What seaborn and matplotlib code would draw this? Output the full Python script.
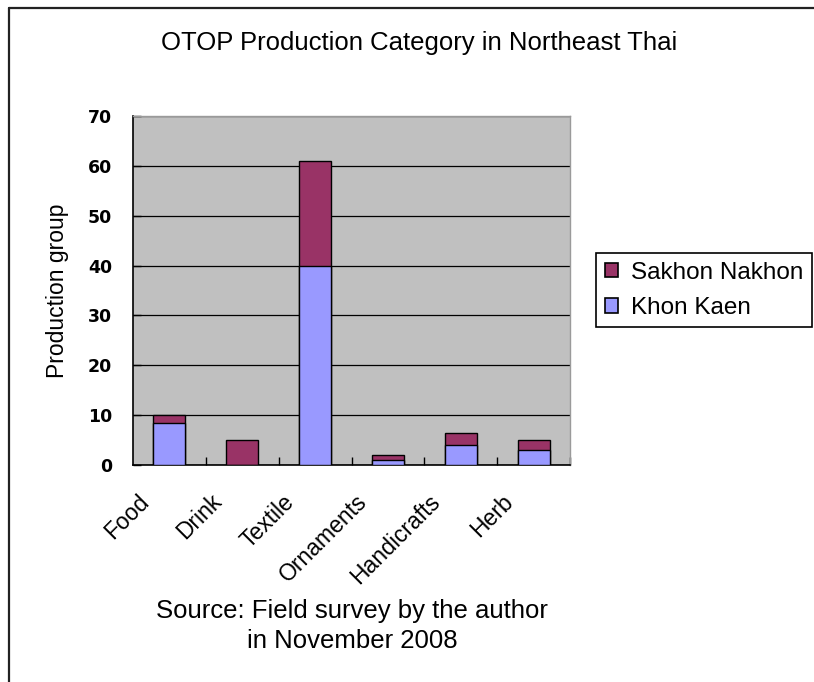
import matplotlib
matplotlib.use("Agg")
import matplotlib.pyplot as plt
import matplotlib.transforms as mtransforms
from matplotlib.lines import Line2D
from matplotlib.patches import Patch
import seaborn as sns
import pandas as pd

# Production groups per OTOP category
categories = ["Food", "Drink", "Textile", "Ornaments", "Handicrafts", "Herb"]
khon_kaen = [8.5, 0, 40, 1, 4, 3]
sakhon_nakhon = [1.5, 5, 21, 1, 2.4, 2]
y_ticks = [0, 10, 20, 30, 40, 50, 60, 70]

totals = [k + s for k, s in zip(khon_kaen, sakhon_nakhon)]
df = pd.DataFrame({"category": categories, "khon": khon_kaen, "total": totals})

SAKHON_COLOR = "#993366"
KHON_COLOR = "#9999FF"
FONT = "Liberation Sans"

sns.set_theme(style="white")
plt.rcParams["font.family"] = [FONT, "DejaVu Sans"]
plt.rcParams.update({"text.color": "black", "axes.labelcolor": "black",
                     "xtick.color": "black", "ytick.color": "black"})

fig = plt.figure(figsize=(8.14, 6.82), dpi=100)
ax = fig.add_axes([133 / 814, 1 - 465 / 682, 437 / 814, 349 / 682])
ax.set_facecolor("#C0C0C0")
ax.set_axisbelow(True)

# stacked bars: full height in Sakhon Nakhon colour, Khon Kaen part drawn over it
sns.barplot(data=df, x="category", y="total", color=SAKHON_COLOR, saturation=1,
            width=0.44, edgecolor="black", linewidth=1.0, ax=ax, zorder=3)
sns.barplot(data=df, x="category", y="khon", color=KHON_COLOR, saturation=1,
            width=0.44, edgecolor="black", linewidth=1.0, ax=ax, zorder=4)

ax.set_xlim(-0.5, len(categories) - 0.5)
ax.set_ylim(0, 70)
ax.set_yticks(y_ticks)
ax.set_yticklabels([str(v) for v in y_ticks], fontsize=12.5, fontweight="bold",
                   family="DejaVu Sans")
ax.yaxis.grid(True, color="black", linewidth=0.9)
ax.xaxis.grid(False)

# category labels at bar centres, tick marks on the category boundaries
ax.set_xticks(range(len(categories)))
ax.set_xticklabels(categories, rotation=45, ha="right", va="top", fontsize=16.5)
ax.set_xticks([i + 0.5 for i in range(len(categories))], minor=True)
ax.tick_params(axis="x", which="major", length=0, pad=18)
ax.tick_params(axis="x", which="minor", direction="in", length=6, width=1, color="black", bottom=True)
ax.tick_params(axis="y", direction="in", length=6, width=1, color="black", left=True, pad=15)
shift = mtransforms.ScaledTranslation(-16 / 100, 0, fig.dpi_scale_trans)
for lab in ax.get_xticklabels():
    lab.set_transform(lab.get_transform() + shift)

ax.set_xlabel("")
ax.set_ylabel("Production group", fontsize=16.5)
ax.yaxis.set_label_coords(-0.146, 0.5)

for side in ["left", "bottom"]:
    ax.spines[side].set_color("black")
    ax.spines[side].set_linewidth(1.2)
for side in ["top", "right"]:
    ax.spines[side].set_color("#9A9A9A")
    ax.spines[side].set_linewidth(1.0)
    ax.spines[side].set_visible(True)

fig.text(419.5 / 814, 1 - 43 / 682, "OTOP Production Category in Northeast Thai",
         ha="center", va="center", fontsize=18.5)
fig.text(352 / 814, 1 - 626 / 682, "Source: Field survey by the author\nin November 2008",
         ha="center", va="center", fontsize=18.5, linespacing=1.3)

handles = [Patch(facecolor=SAKHON_COLOR, edgecolor="black", linewidth=1.2),
           Patch(facecolor=KHON_COLOR, edgecolor="black", linewidth=1.2)]
leg = fig.legend(handles, ["Sakhon Nakhon", "Khon Kaen"],
                 loc="upper left", bbox_to_anchor=(596 / 814, 1 - 253 / 682),
                 bbox_transform=fig.transFigure, fontsize=17.5, frameon=True,
                 fancybox=False, edgecolor="black", framealpha=1,
                 handlelength=0.55, handleheight=0.55, handletextpad=0.55,
                 borderpad=0.35, labelspacing=0.55, borderaxespad=0)
leg.get_frame().set_linewidth(1.2)

# outer frame around the figure
fig.add_artist(Line2D([9 / 814, 9 / 814], [0, 1 - 8 / 682], transform=fig.transFigure,
                      color="#222222", linewidth=1.6))
fig.add_artist(Line2D([9 / 814, 1], [1 - 8 / 682, 1 - 8 / 682], transform=fig.transFigure,
                      color="#222222", linewidth=1.6))

fig.savefig("out.png", dpi=100, facecolor="white")
